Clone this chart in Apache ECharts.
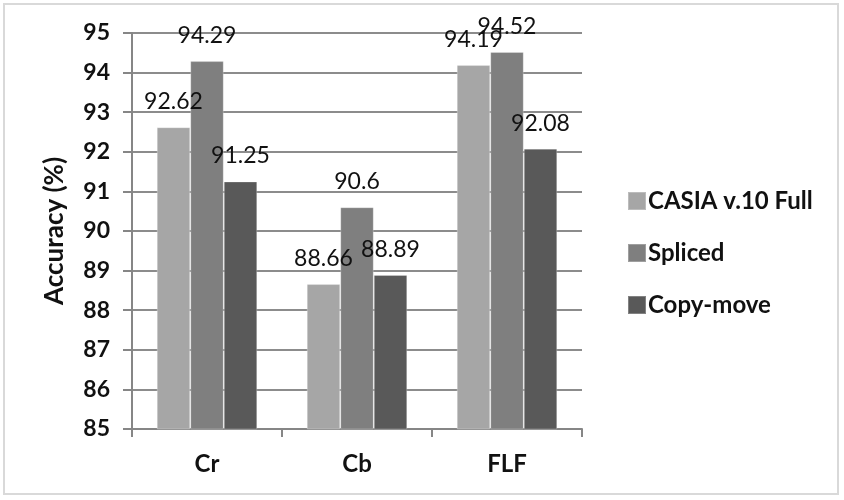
<!DOCTYPE html>
<html>
<head>
<meta charset="utf-8">
<script src="https://cdn.jsdelivr.net/npm/echarts@6/dist/echarts.min.js"></script>
<style>
html,body{margin:0;padding:0;background:#fff;}
#frame{position:absolute;left:3px;top:3px;width:836px;height:492px;border:2px solid #d9d9d9;box-sizing:border-box;}
#chart{position:absolute;left:0;top:0;width:844px;height:500px;}
</style>
</head>
<body>
<div id="frame"></div>
<div id="chart"></div>
<script>
const categories = ['Cr', 'Cb', 'FLF'];
const seriesNames = ['CASIA v.10 Full', 'Spliced', 'Copy-move'];
const casiaFull = [92.62, 88.66, 94.19];
const spliced = [94.29, 90.6, 94.52];
const copyMove = [91.25, 88.89, 92.08];
const yTicks = [85, 86, 87, 88, 89, 90, 91, 92, 93, 94, 95];

const colors = ['#a6a6a6', '#7f7f7f', '#595959'];
const FONT = 'Lato, "Open Sans", sans-serif';
const chart = echarts.init(document.getElementById('chart'), null, {renderer: 'canvas'});

function mk(name, data, color) {
  return {
    name: name,
    type: 'bar',
    data: data,
    barGap: '0%',
    barCategoryGap: '33%',
    itemStyle: {color: color, borderColor: 'rgba(255,255,255,0.25)', borderWidth: 1},
    label: {
      show: true,
      position: 'top',
      distance: 14,
      color: '#111',
      fontFamily: FONT,
      fontSize: 23,
      formatter: p => String(p.value)
    }
  };
}

chart.setOption({
  animation: false,
  color: colors,
  grid: {left: 132, right: 262, top: 33, bottom: 71, containLabel: false},
  legend: {
    orient: 'vertical',
    left: 622,
    top: 184,
    itemWidth: 18,
    itemHeight: 18,
    itemGap: 28,
    icon: 'rect',
    textStyle: {fontFamily: FONT, fontWeight: 'bold', fontSize: 24, color: '#111', padding: [0,0,0,-3]},
    data: seriesNames
  },
  xAxis: {
    type: 'category',
    data: categories,
    axisLine: {lineStyle: {color: '#868686', width: 2}},
    axisTick: {show: true, length: 8, lineStyle: {color: '#868686', width: 2}},
    axisLabel: {fontFamily: FONT, fontWeight: 'bold', fontSize: 24, color: '#111', margin: 23}
  },
  yAxis: {
    type: 'value',
    min: yTicks[0],
    max: yTicks[yTicks.length - 1],
    interval: 1,
    name: 'Accuracy (%)',
    nameLocation: 'middle',
    nameGap: 64,
    nameRotate: 90,
    nameTextStyle: {fontFamily: FONT, fontWeight: 'bold', fontSize: 26, color: '#111'},
    axisLine: {show: true, lineStyle: {color: '#868686', width: 2}},
    axisTick: {show: true, length: 9, lineStyle: {color: '#868686', width: 2}},
    splitLine: {show: true, lineStyle: {color: '#8c8c8c', width: 2}},
    axisLabel: {fontFamily: FONT, fontWeight: 'bold', fontSize: 23, color: '#111', margin: 22}
  },
  series: [
    mk(seriesNames[0], casiaFull, colors[0]),
    mk(seriesNames[1], spliced, colors[1]),
    mk(seriesNames[2], copyMove, colors[2])
  ]
});
</script>
</body>
</html>
